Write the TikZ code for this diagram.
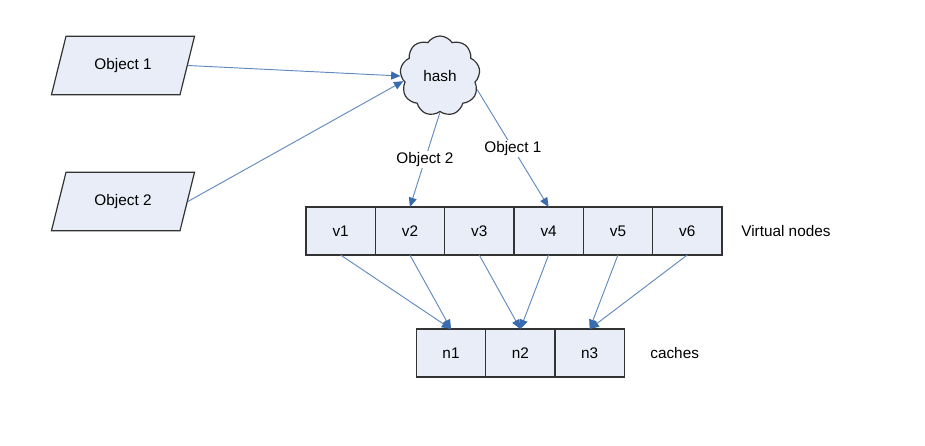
\documentclass[tikz,border=0pt]{standalone}
\usepackage{fontspec}
\setmainfont{Liberation Sans}
\usepackage{xcolor}
\usetikzlibrary{arrows.meta,positioning,shapes.geometric,shapes.symbols}

\definecolor{cellfill}{RGB}{233,237,247}
\definecolor{edgeblue}{RGB}{96,138,190}
\definecolor{tipblue}{RGB}{58,107,174}

\begin{document}
\begin{tikzpicture}[x=0.75pt, y=-0.75pt, font=\fontsize{11.5}{13}\selectfont,
        cell/.style={draw=black!80, line width=0.9pt, fill=cellfill, minimum width=52pt, minimum height=36pt, inner sep=0pt, outer sep=0pt},
        objbox/.style={draw=black!80, line width=0.9pt, fill=cellfill, trapezium, trapezium left angle=70, trapezium right angle=110, trapezium stretches=true, minimum width=108pt, minimum height=44pt},
        link/.style={draw=edgeblue, line width=0.7pt, -{Triangle[length=7pt, width=6pt, color=tipblue]}}]
        \useasboundingbox (0,0) rectangle (925,446);

        % Objects
        \node[objbox] (obj1) at (123,65.5) {Object 1};
        \node[objbox] (obj2) at (123,201.5) {Object 2};

        % Hash
        \node[draw=black!80, line width=0.9pt, fill=cellfill, cloud, cloud puffs=9, cloud puff arc=115, aspect=1, minimum width=60pt, minimum height=60pt, inner sep=0pt] (hash) at (440,76) {hash};

        % Virtual nodes
        \node[cell] (v1) at (340.6,231) {v1};
        \node[cell, right=0pt of v1] (v2) {v2};
        \node[cell, right=0pt of v2] (v3) {v3};
        \node[cell, right=0pt of v3] (v4) {v4};
        \node[cell, right=0pt of v4] (v5) {v5};
        \node[cell, right=0pt of v5] (v6) {v6};
        \node[right=11pt of v6] (vlabel) {Virtual nodes};

        % Caches
        \node[cell] (n1) at (451,353) {n1};
        \node[cell, right=0pt of n1] (n2) {n2};
        \node[cell, right=0pt of n2] (n3) {n3};
        \node[right=16pt of n3] (nlabel) {caches};

        % Arrows
        \draw[link] (obj1.east) -- (hash.west);
        \draw[link] (obj2.east) -- (hash.188);
        \draw[link] (hash.south) -- (v2.north) node[midway, fill=white, inner sep=1pt] {Object 2};
        \draw[link] (hash.340) -- (v4.north) node[midway, fill=white, inner sep=1pt] {Object 1};
        \draw[link] (v1.south) -- (n1.north);
        \draw[link] (v2.south) -- (n1.north);
        \draw[link] (v3.south) -- (n2.north);
        \draw[link] (v4.south) -- (n2.north);
        \draw[link] (v5.south) -- (n3.north);
        \draw[link] (v6.south) -- (n3.north);
    \end{tikzpicture}
\end{document}
